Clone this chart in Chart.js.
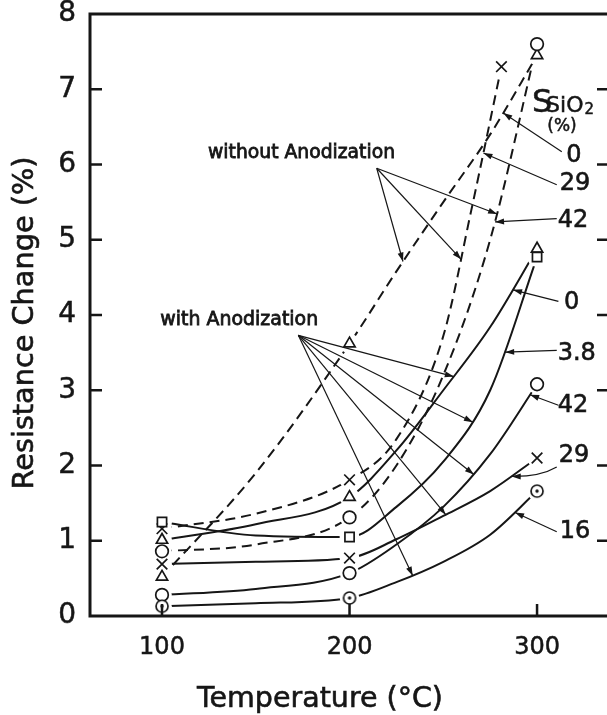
<!DOCTYPE html>
<html lang="en">
<head>
<meta charset="UTF-8">
<title>Resistance Change vs Temperature</title>
<style>
html, body { margin: 0; padding: 0; background: #fff; overflow: hidden; }
canvas { display: block; }
</style>
<script src="https://cdn.jsdelivr.net/npm/chart.js"></script>
</head>
<body>
<canvas id="resChart" width="607" height="715"></canvas>
<script>
// temperatures (°C) the curves are read at; the dashed 29 % curve stops near 281 °C
const temps  = [100, 150, 200, 225, 250, 275, 300];
const tempsB = [100, 150, 200, 225, 250, 265, 281];

// without anodization (dashed), SSiO2 = 0, 29, 42 %
const dash0  = [0.52, 1.90, 3.62, 4.58, 5.50, 6.40, 7.45];
const dash29 = [1.16, 1.36, 1.81, 2.35, 3.72, 5.40, 7.30];
const dash42 = [0.86, 0.95, 1.31, 2.00, 3.20, 5.00, 7.60];

// with anodization (solid), SSiO2 = 0, 3.8, 42, 29, 16 %
const anod0  = [1.01, 1.22, 1.58, 2.20, 3.00, 3.84, 4.88];
const anod38 = [1.25, 1.07, 1.05, 1.45, 2.05, 3.00, 4.77];
const anod42 = [0.28, 0.36, 0.57, 0.95, 1.45, 2.15, 3.08];
const anod29 = [0.69, 0.72, 0.77, 1.02, 1.33, 1.66, 2.10];
const anod16 = [0.13, 0.17, 0.24, 0.45, 0.72, 1.08, 1.66];

// only these readings are measured points (get a marker)
const measured = [0, 2, 6];
const xTicks = [100, 200, 300];

const ink = '#161616';
const FONT = '"DejaVu Sans", sans-serif';

// circle with a dot in the middle
const dotCircle = document.createElement('canvas');
dotCircle.width = dotCircle.height = 16;
const dc = dotCircle.getContext('2d');
dc.fillStyle = '#fff'; dc.strokeStyle = ink; dc.lineWidth = 1.7;
dc.beginPath(); dc.arc(8, 8, 6, 0, Math.PI * 2); dc.fill(); dc.stroke();
dc.fillStyle = ink;
dc.beginPath(); dc.arc(8, 8, 1.7, 0, Math.PI * 2); dc.fill();

function series(xs, ys, style, r, dashed) {
    return {
        data: xs.map((t, i) => ({ x: t, y: ys[i] })),
        borderColor: ink,
        borderWidth: 2,
        borderDash: dashed ? [10, 6] : [],
        pointStyle: style,
        pointRadius: xs.map((t, i) => measured.includes(i) ? r : 0),
        pointBorderColor: ink,
        pointBackgroundColor: '#fff',
        pointBorderWidth: 1.7,
        cubicInterpolationMode: 'monotone',
        fill: false
    };
}

// annotation layout (data units)
const fans = [
    { text: 'without Anodization', at: [174.4, 6.09], width: 187, from: [214.5, 5.95], to: [[0, 228.5], [1, 259.5], [2, 278.7]] },
    { text: 'with Anodization', at: [141.2, 3.87], width: 158, from: [172.7, 3.73], to: [[3, 255.6], [4, 265.8], [5, 266.3], [6, 251.3], [7, 233.7]] }
];
const tags = [
    { text: '0',   at: [319.7, 6.11], from: [313.2, 6.17], to: [0, 282.0] },
    { text: '29',  at: [320.3, 5.74], from: [310.5, 5.73], to: [1, 271.4] },
    { text: '42',  at: [319.2, 5.25], from: [310.5, 5.28], to: [2, 277.6] },
    { text: '0',   at: [318.5, 4.16], from: [311.4, 4.18], to: [3, 287.2] },
    { text: '3.8', at: [321.2, 3.49], from: [310.5, 3.53], to: [4, 283.0] },
    { text: '42',  at: [319.2, 2.79], from: [311.4, 2.80], to: [5, 296.3] },
    { text: '29',  at: [319.7, 2.13], from: [310.5, 1.98], to: [6, 286.5], bend: [301.6, 1.85] },
    { text: '16',  at: [320.3, 1.12], from: [310.5, 1.12], to: [7, 288.3] }
];

function arrowHead(ctx, x1, y1, x2, y2, len) {
    const a = Math.atan2(y2 - y1, x2 - x1);
    const w = len * 0.33;
    ctx.beginPath();
    ctx.moveTo(x2, y2);
    ctx.lineTo(x2 - len * Math.cos(a) + w * Math.sin(a), y2 - len * Math.sin(a) - w * Math.cos(a));
    ctx.lineTo(x2 - len * Math.cos(a) - w * Math.sin(a), y2 - len * Math.sin(a) + w * Math.cos(a));
    ctx.closePath();
    ctx.fill();
}

function onCurve(chart, idx, t) {
    const meta = chart.getDatasetMeta(idx);
    const px = chart.scales.x.getPixelForValue(t);
    let p = meta.dataset.interpolate({ x: px }, 'x');
    if (Array.isArray(p)) p = p[0];
    return p;
}

function text(ctx, s, x, y, size, align, base, stroke) {
    ctx.font = size + 'px ' + FONT;
    ctx.textAlign = align;
    ctx.textBaseline = base;
    ctx.fillText(s, x, y);
    ctx.lineWidth = stroke || 0.5;
    ctx.strokeText(s, x, y);
}

// pick the font size that makes the text the given width
function fitSize(ctx, s, width) {
    ctx.font = '20px ' + FONT;
    return 20 * width / ctx.measureText(s).width;
}

const decor = {
    id: 'decor',
    afterDraw(chart) {
        const ctx = chart.ctx;
        const area = chart.chartArea;
        const W = chart.width;
        const xs = chart.scales.x, ys = chart.scales.y;
        const P = (v) => [xs.getPixelForValue(v[0]), ys.getPixelForValue(v[1])];

        // white gaps around markers, then the markers again
        ctx.save();
        ctx.fillStyle = '#fff';
        chart.data.datasets.forEach((ds, i) => {
            chart.getDatasetMeta(i).data.forEach(pt => {
                const r = pt.options.radius;
                if (r > 0) { ctx.beginPath(); ctx.arc(pt.x, pt.y, Math.min(r, 6.5) + 3.5, 0, Math.PI * 2); ctx.fill(); }
            });
        });
        chart.data.datasets.forEach((ds, i) => {
            chart.getDatasetMeta(i).data.forEach(pt => { if (pt.options.radius > 0) pt.draw(ctx, area); });
        });
        ctx.restore();

        ctx.save();
        // frame and inward ticks
        ctx.strokeStyle = ink;
        ctx.fillStyle = ink;
        ctx.lineWidth = 3;
        ctx.beginPath();
        ctx.moveTo(W + 2, area.top);
        ctx.lineTo(area.left, area.top);
        ctx.lineTo(area.left, area.bottom);
        ctx.lineTo(W + 2, area.bottom);
        ctx.stroke();
        ctx.lineWidth = 2.5;
        ctx.beginPath();
        for (let v = 1; v < 8; v++) {
            const y = ys.getPixelForValue(v);
            ctx.moveTo(area.left, y); ctx.lineTo(area.left + 12, y);
            ctx.moveTo(W, y); ctx.lineTo(W - 10, y);
        }
        xTicks.forEach(v => {
            const x = xs.getPixelForValue(v);
            ctx.moveTo(x, area.bottom); ctx.lineTo(x, area.bottom - 12);
        });
        ctx.stroke();

        // axis titles
        const xt = 'Temperature (°C)';
        text(ctx, xt, 320, 707, fitSize(ctx, xt, 246), 'center', 'alphabetic', 0.6);
        const yt = 'Resistance Change (%)';
        const ySize = fitSize(ctx, yt, 333);
        ctx.save();
        ctx.translate(33, 323);
        ctx.rotate(-Math.PI / 2);
        text(ctx, yt, 0, 0, ySize, 'center', 'alphabetic', 0.6);
        ctx.restore();

        // fan arrows with their captions
        fans.forEach(f => {
            const [tx, ty] = P(f.at);
            text(ctx, f.text, tx, ty, fitSize(ctx, f.text, f.width), 'center', 'alphabetic', 0.8);
            const [ox, oy] = P(f.from);
            f.to.forEach(([idx, t]) => {
                const p = onCurve(chart, idx, t);
                if (!p) return;
                ctx.lineWidth = 1.2;
                ctx.beginPath(); ctx.moveTo(ox, oy); ctx.lineTo(p.x, p.y); ctx.stroke();
                arrowHead(ctx, ox, oy, p.x, p.y, 9);
            });
        });

        // SSiO2 (%) header
        const [sx, sy] = P([297.3, 6.70]);
        text(ctx, 'S', sx, sy, 32, 'left', 'alphabetic');
        const [bx, by] = P([304.8, 6.70]);
        text(ctx, 'SiO', bx, by, 22, 'left', 'alphabetic');
        ctx.font = '22px ' + FONT;
        const w = ctx.measureText('SiO').width;
        text(ctx, '2', bx + w + 1, by + 2, 15, 'left', 'alphabetic');
        const [qx, qy] = P([313.3, 6.50]);
        text(ctx, '(%)', qx, qy, 17, 'center', 'middle');

        // value tags with leaders
        tags.forEach(g => {
            const [tx, ty] = P(g.at);
            text(ctx, g.text, tx, ty, 24, 'center', 'middle', 0.6);
            const [ox, oy] = P(g.from);
            const p = onCurve(chart, g.to[0], g.to[1]);
            if (!p) return;
            ctx.lineWidth = 1.2;
            ctx.beginPath();
            ctx.moveTo(ox, oy);
            let cx = ox, cy = oy;
            if (g.bend) {
                [cx, cy] = P(g.bend);
                ctx.quadraticCurveTo(cx, cy, p.x, p.y);
            } else {
                ctx.lineTo(p.x, p.y);
            }
            ctx.stroke();
            arrowHead(ctx, cx, cy, p.x, p.y, 9);
        });
        ctx.restore();
    }
};

new Chart(document.getElementById('resChart'), {
    type: 'line',
    data: {
        datasets: [
            series(temps,  dash0,  'triangle', 6.5, true),
            series(tempsB, dash29, 'crossRot', 7.5, true),
            series(temps,  dash42, 'circle',   6.3, true),
            series(temps,  anod0,  'triangle', 6.5, false),
            series(temps,  anod38, 'rect',     6.5, false),
            series(temps,  anod42, 'circle',   6.3, false),
            series(temps,  anod29, 'crossRot', 7.5, false),
            series(temps,  anod16, dotCircle,  6.3, false)
        ]
    },
    options: {
        responsive: false,
        animation: false,
        events: [],
        layout: { autoPadding: false, padding: { top: 14, left: 0, right: 0, bottom: 0 } },
        plugins: { legend: { display: false }, tooltip: { enabled: false } },
        scales: {
            x: {
                type: 'linear',
                min: 61.6,
                max: 337.3,
                afterBuildTicks: s => { s.ticks = xTicks.map(v => ({ value: v })); },
                ticks: {
                    font: { family: FONT, size: 24 },
                    color: ink, padding: 17, maxRotation: 0,
                    textStrokeColor: ink, textStrokeWidth: 0.5
                },
                grid: { display: false, drawTicks: false },
                border: { display: false },
                afterFit: s => { s.height = 99; s.paddingLeft = 0; s.paddingRight = 0; }
            },
            y: {
                type: 'linear',
                min: 0,
                max: 8,
                ticks: {
                    stepSize: 1,
                    font: { family: FONT, size: 28 },
                    color: ink, padding: 14,
                    textStrokeColor: ink, textStrokeWidth: 0.5
                },
                grid: { display: false, drawTicks: false },
                border: { display: false },
                afterFit: s => { s.width = 90; s.paddingTop = 0; s.paddingBottom = 0; }
            }
        }
    },
    plugins: [decor]
});
</script>
</body>
</html>
